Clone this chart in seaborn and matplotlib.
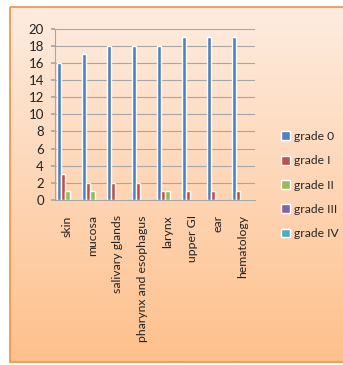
import numpy as np
import pandas as pd
import matplotlib
matplotlib.use("Agg")
import matplotlib.pyplot as plt
import seaborn as sns
from matplotlib.patches import Rectangle

categories = ["skin", "mucosa", "salivary glands", "pharynx and esophagus",
              "larynx", "upper GI", "ear", "hematology"]
series_names = ["grade 0", "grade I", "grade II", "grade III", "grade IV"]
grade0 = [16, 17, 18, 18, 18, 19, 19, 19]
grade1 = [3, 2, 2, 2, 1, 1, 1, 1]
grade2 = [1, 1, 0, 0, 1, 0, 0, 0]
grade3 = [0, 0, 0, 0, 0, 0, 0, 0]
grade4 = [0, 0, 0, 0, 0, 0, 0, 0]
yticks = [0, 2, 4, 6, 8, 10, 12, 14, 16, 18, 20]
colors = ["#4F81BD", "#C0504D", "#9BBB59", "#8064A2", "#4BACC6"]

rows = []
for name, vals in zip(series_names, [grade0, grade1, grade2, grade3, grade4]):
    for c, v in zip(categories, vals):
        rows.append({"category": c, "grade": name, "value": v})
df = pd.DataFrame(rows)

sns.set_theme(style="white")
plt.rcParams["font.family"] = ["Lato", "DejaVu Sans"]

W, H = 343, 365
fig = plt.figure(figsize=(W / 100, H / 100), dpi=100)
fig.patch.set_facecolor("white")

# gradient background panel with orange border
bg = fig.add_axes([0, 0, 1, 1], zorder=0)
grad = np.linspace(0, 1, 256)[:, None]
top = np.array([253, 236, 224]) / 255
bot = np.array([255, 192, 140]) / 255
img = top[None, None, :] * (1 - grad[:, :, None]) + bot[None, None, :] * grad[:, :, None]
bg.imshow(img, extent=[10, W + 5, 362, 7], aspect="auto", zorder=0)
bg.add_patch(Rectangle((10, 7), W, 355, fill=False, edgecolor="#F79646", lw=1.3, zorder=1))
bg.set_xlim(0, W)
bg.set_ylim(H, 0)
bg.axis("off")

ax = fig.add_axes([55 / W, 1 - 200 / H, 200 / W, 171.3 / H], zorder=2)
ax.patch.set_alpha(0)
sns.barplot(data=df, x="category", y="value", hue="grade", palette=colors,
            width=0.82, ax=ax, saturation=1, errorbar=None, legend=True)

ax.set_ylim(0, 20)
ax.set_xlim(-0.5, 7.5)
ax.set_yticks(yticks)
ax.set_yticklabels([str(t) for t in yticks], fontsize=9.5, color="#222222")
ax.set_xticks(range(len(categories)))
ax.set_xticklabels(categories, rotation=90, fontsize=8.8, color="#222222")
ax.set_xlabel("")
ax.set_ylabel("")
ax.yaxis.grid(True, color="#A6A6A6", lw=0.8)
ax.set_axisbelow(True)
for s in ["top", "right"]:
    ax.spines[s].set_visible(False)
for s in ["left", "bottom"]:
    ax.spines[s].set_color("#A6A6A6")
    ax.spines[s].set_linewidth(0.8)
ax.tick_params(axis="y", length=3, color="#A6A6A6", pad=5, left=True)
ax.tick_params(axis="x", length=0, pad=11)

handles, labels = ax.get_legend_handles_labels()
ax.legend_.remove()
fig.legend(handles, labels, loc="upper left", bbox_to_anchor=(281 / W, 1 - 131 / H),
           bbox_transform=fig.transFigure, frameon=False, fontsize=8.7,
           handlelength=0.75, handleheight=0.75, handletextpad=0.3,
           labelspacing=1.1, borderpad=0, borderaxespad=0)

fig.savefig("out.png", dpi=100)
